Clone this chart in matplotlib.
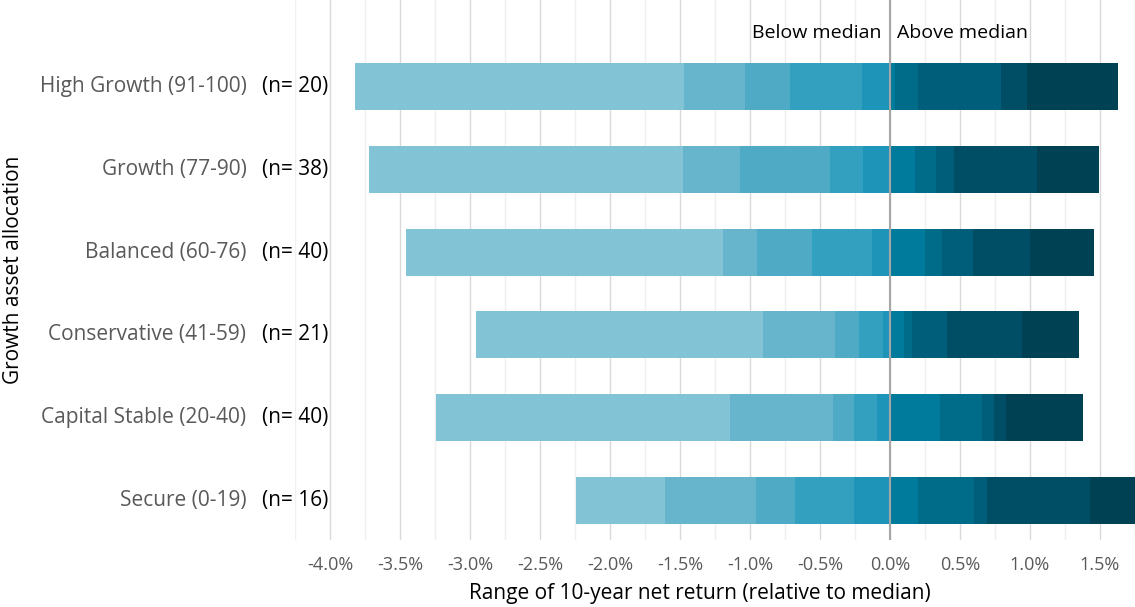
import numpy as np
import matplotlib.pyplot as plt
from matplotlib.ticker import MultipleLocator, FuncFormatter

plt.rcParams['font.family'] = ['Open Sans', 'DejaVu Sans']

categories = ['High Growth (91-100)', 'Growth (77-90)', 'Balanced (60-76)',
              'Conservative (41-59)', 'Capital Stable (20-40)', 'Secure (0-19)']
counts = [20, 38, 40, 21, 40, 16]

# decile edges relative to median (%), lowest to highest
high_growth = [-3.82, -1.47, -1.035, -0.715, -0.20, 0, 0.036, 0.20, 0.79, 0.98, 1.63]
growth = [-3.72, -1.48, -1.07, -0.43, -0.19, 0, 0.18, 0.325, 0.46, 1.05, 1.49]
balanced = [-3.46, -1.19, -0.95, -0.56, -0.13, 0, 0.25, 0.37, 0.59, 1.00, 1.46]
conservative = [-2.96, -0.905, -0.39, -0.22, -0.05, 0, 0.10, 0.155, 0.41, 0.94, 1.35]
capital_stable = [-3.24, -1.14, -0.41, -0.255, -0.09, 0, 0.355, 0.66, 0.74, 0.825, 1.38]
secure = [-2.24, -1.61, -0.96, -0.68, -0.26, 0, 0.20, 0.60, 0.69, 1.43, 1.80]

rows = [high_growth, growth, balanced, conservative, capital_stable, secure]

colors = ['#82C3D6', '#67B5CC', '#4FAAC5', '#33A0BF', '#1E94B8',
          '#007B9C', '#006C8A', '#005E7A', '#004E66', '#004254']

fig = plt.figure(figsize=(11.35, 6.07), dpi=100)
ax = fig.add_axes([0.26, 0.11, 0.74, 0.89])

ypos = np.arange(len(categories))[::-1]
for y, edges in zip(ypos, rows):
    e = np.array(edges)
    ax.barh([y] * 10, np.diff(e), left=e[:-1], height=0.57,
            color=colors, edgecolor='none', zorder=2)

ax.axvline(0, color='#A6A6A6', lw=1.5, zorder=3)

ax.set_xlim(-4.25, 1.75)
ax.set_ylim(-0.485, 6.05)
ax.xaxis.set_major_locator(MultipleLocator(0.5))
ax.xaxis.set_minor_locator(MultipleLocator(0.25))
ax.xaxis.set_major_formatter(FuncFormatter(lambda v, p: f'{v:.1f}%'))
ax.grid(axis='x', which='major', color='#D9D9D9', lw=1, zorder=0)
ax.grid(axis='x', which='minor', color='#EFEFEF', lw=1, zorder=0)
ax.set_axisbelow(True)
ax.tick_params(axis='x', which='both', length=0, pad=11, labelsize=13, labelcolor='#595959')
ax.set_yticks([])
for s in ax.spines.values():
    s.set_visible(False)

for y, cat, n in zip(ypos, categories, counts):
    ax.text(-0.058, y, cat, transform=ax.get_yaxis_transform(), ha='right', va='center',
            fontsize=15, color='#595959')
    ax.text(-0.039, y, f'(n= {n})', transform=ax.get_yaxis_transform(), ha='left', va='center',
            fontsize=15, color='black')

ax.text(-0.06, 5.65, 'Below median', ha='right', va='center', fontsize=14, color='black')
ax.text(0.05, 5.65, 'Above median', ha='left', va='center', fontsize=14, color='black')

fig.text(700 / 1135, 0.022, 'Range of 10-year net return (relative to median)',
         ha='center', va='center', fontsize=15, color='black')
fig.text(0.012, 0.555, 'Growth asset allocation', rotation=90, ha='center', va='center',
         fontsize=15, color='black')

fig.savefig('out.png', dpi=100)
